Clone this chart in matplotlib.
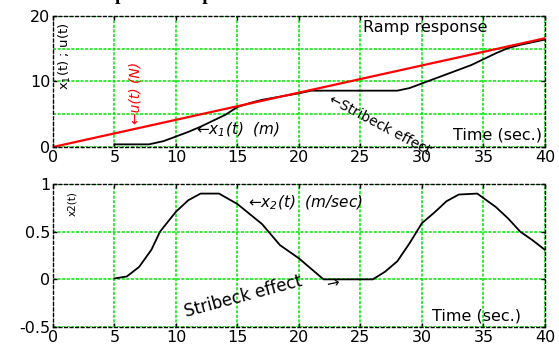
import matplotlib

matplotlib.use("Agg")
from matplotlib import pyplot as plt
from matplotlib.ticker import MultipleLocator

# ramp input u(t), linear from 0 to 40 s
ramp_t = [0.0, 40.0]
ramp_u = [0.0, 16.6]

# position x1(t)
pos_t = [5.0, 6.0, 7.8, 9.0, 10.0, 11.0, 12.0, 13.0, 14.0, 15.0, 16.0, 17.0, 18.5, 20.0,
         21.0, 24.0, 28.0, 29.0, 30.0, 31.0, 32.0, 33.0, 34.0, 35.0, 36.0, 37.0, 38.0, 39.0, 40.0]
pos_x = [0.4, 0.4, 0.4, 0.9, 1.6, 2.3, 3.1, 4.0, 4.9, 6.1, 6.7, 7.2, 7.7, 8.2,
         8.6, 8.6, 8.6, 9.0, 9.7, 10.4, 11.1, 11.8, 12.5, 13.4, 14.3, 15.1, 15.6, 16.0, 16.4]

# velocity x2(t)
vel_t = [5.0, 5.5, 6.0, 7.0, 8.0, 8.7, 10.0, 11.0, 12.0, 13.5, 15.0, 17.0, 18.45, 20.0,
         22.0, 26.0, 27.0, 28.0, 29.0, 30.0, 31.0, 32.0, 33.0, 34.5, 36.0, 37.0, 38.0, 39.0, 40.0]
vel_v = [0.01, 0.02, 0.03, 0.13, 0.31, 0.5, 0.71, 0.83, 0.9, 0.9, 0.79, 0.58, 0.36, 0.22,
         0.0, 0.0, 0.08, 0.19, 0.38, 0.59, 0.7, 0.82, 0.89, 0.9, 0.76, 0.64, 0.5, 0.41, 0.31]

x_ticks = [0, 5, 10, 15, 20, 25, 30, 35, 40]
top_ticks = [0, 10, 20]
bottom_ticks = [-0.5, 0, 0.5, 1]

plt.rcParams["font.family"] = "DejaVu Sans"

GRID_GREEN = "#00e600"


def style_axis(axis, y_major, y_grid_step):
    axis.set_xlim(0, 40)
    axis.set_xticks(x_ticks)
    axis.set_yticks(y_major)
    axis.yaxis.set_minor_locator(MultipleLocator(y_grid_step))
    axis.tick_params(which="both", direction="in", length=3, width=1,
                     top=True, right=True, labelsize=11.5, pad=2)
    axis.tick_params(which="minor", length=0)
    axis.grid(True, which="both", color=GRID_GREEN, linestyle=(0, (2, 1)), linewidth=1.1)
    for spine in axis.spines.values():
        spine.set_color("black")
        spine.set_linestyle((0, (2, 2)))
        spine.set_linewidth(1.0)


figure = plt.figure(figsize=(5.59, 3.47), dpi=100)
top = figure.add_axes([0.0948, 0.5764, 0.880, 0.3775])
bottom = figure.add_axes([0.0948, 0.0576, 0.880, 0.412])

# title sits mostly above the canvas, only its descenders show
figure.text(0.135, 1.0, "Computed ramp test of the mass motion with the Stribeck friction model only",
            family="Liberation Serif", weight="bold", fontsize=14, va="baseline", ha="left")

# top panel: ramp response
top.plot(pos_t, pos_x, color="black", linewidth=1.3)
top.plot(ramp_t, ramp_u, color="red", linewidth=1.6)
top.set_ylim(0, 20)
style_axis(top, top_ticks, 5)

top.text(25.2, 17.6, "Ramp response", fontsize=11.5, ha="left", va="baseline")
top.text(32.5, 1.2, "Time (sec.)", fontsize=11.5, ha="left", va="baseline", clip_on=False)
top.text(1.0, 13.8, "x$_\\mathregular{1}$(t) ; u(t)", fontsize=9.5, rotation=90,
         ha="center", va="center")
top.text(6.67, 8.2, "\u2190u(t) (N)", fontsize=10, color="red", style="italic",
         rotation=90, ha="center", va="center")
top.text(11.6, 1.9, "\u2190x$_\\mathregular{1}$(t)  (m)", fontsize=11, style="italic",
         ha="left", va="baseline")
top.text(22.5, 7.4, "\u2190Stribeck effect", fontsize=10, rotation=-28,
         rotation_mode="anchor", ha="left", va="center", clip_on=False)

# bottom panel: velocity
bottom.plot(vel_t, vel_v, color="black", linewidth=1.3)
bottom.set_ylim(-0.5, 1)
style_axis(bottom, bottom_ticks, 0.5)
bottom.set_yticklabels(["-0.5", "0", "0.5", "1"])

bottom.text(1.55, 0.8, "x2(t)", fontsize=7.5, rotation=90, ha="center", va="center")
bottom.text(15.85, 0.76, "\u2190x$_\\mathregular{2}$(t)  (m/sec)", fontsize=11,
            style="italic", ha="left", va="baseline")
bottom.text(10.8, -0.39, "Stribeck effect", fontsize=12, rotation=15,
            rotation_mode="anchor", ha="left", va="baseline")
bottom.text(22.2, -0.06, "\u2192", fontsize=11, rotation=12,
            rotation_mode="anchor", ha="left", va="center")
bottom.text(30.8, -0.43, "Time (sec.)", fontsize=11.5, ha="left", va="baseline")

figure.savefig("out.png", dpi=100)
plt.close(figure)
